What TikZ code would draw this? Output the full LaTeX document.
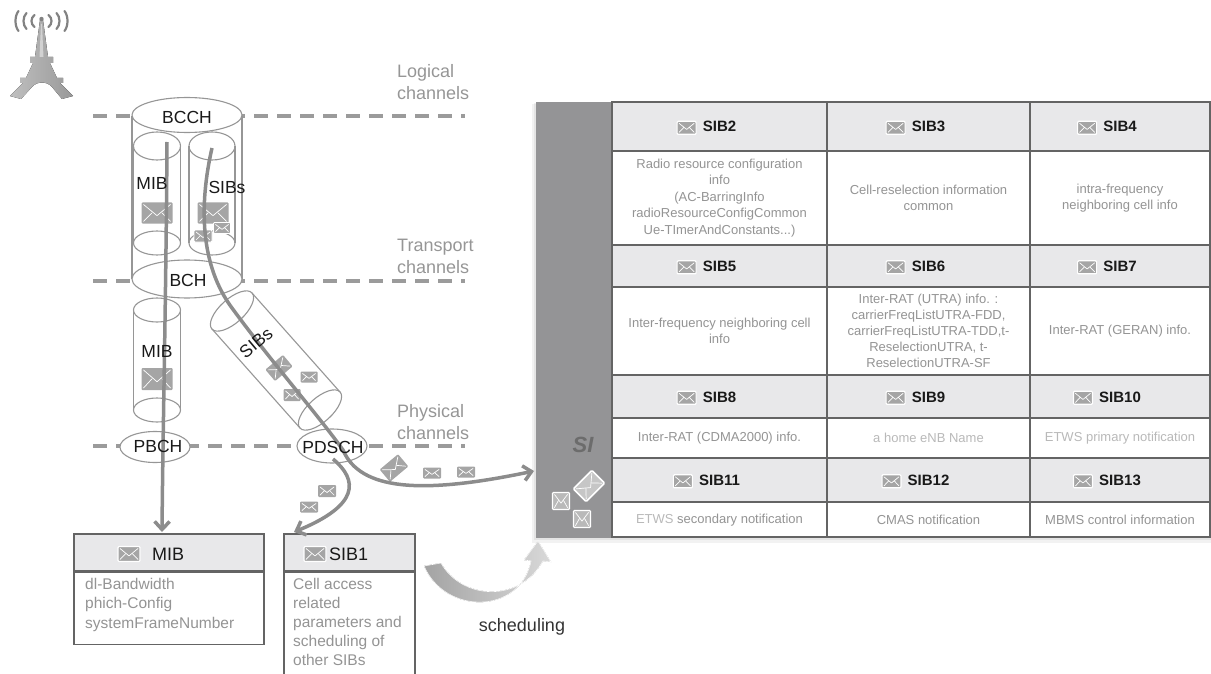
\documentclass[tikz,border=0pt]{standalone}
\usepackage{fontspec}
\setmainfont{Liberation Sans}
\usetikzlibrary{arrows.meta,shapes.geometric,calc}

\definecolor{flow}{RGB}{140,140,140}
\definecolor{outline}{RGB}{150,150,150}
\definecolor{dashc}{RGB}{155,155,155}
\definecolor{labelc}{RGB}{150,150,150}
\definecolor{ink}{RGB}{25,25,25}
\definecolor{panel}{RGB}{148,148,150}
\definecolor{grid}{RGB}{100,100,100}
\definecolor{headfill}{RGB}{232,232,234}
\definecolor{bodytxt}{RGB}{148,148,148}
\definecolor{bodylight}{RGB}{185,185,185}
\definecolor{envfill}{RGB}{165,165,165}
\definecolor{towerc}{RGB}{130,130,130}

% envelope icon: [extra fill options]{centre}{width}{height}{rotation}
\newcommand\envicon[5][]{%
  \begin{scope}[shift={#2}, rotate=#5]
    \fill[envfill, rounded corners=1pt, #1] ({-(#3)/2},{-(#4)/2}) rectangle ({(#3)/2},{(#4)/2});
    \draw[white, line width=0.7pt, line join=round, line cap=round]
      ({-(#3)/2+2},{-(#4)/2+2}) -- (0,{(#4)/8}) -- ({(#3)/2-2},{-(#4)/2+2})
      ({-(#3)/2+2},{(#4)/2-2}) -- ({-(#3)/6},0)
      ({(#3)/2-2},{(#4)/2-2}) -- ({(#3)/6},0);
  \end{scope}}

% one SIB cell: {col x}{header y}{body y}{number}{body text}{body options}
\newcommand\sibcell[6]{%
  \node[headtxt, anchor=base] (h#4) at (#1,#2+5.5) {SIB#4};
  \envicon[draw=white, line width=1.2pt]{($(h#4.west)+(-16,1)$)}{19}{13}{0}
  \node[celltxt, #6] (b#4) at (#1,#3) {#5};}

\begin{document}
\begin{tikzpicture}[x=1pt, y=-1pt,
  chan/.style={font=\fontsize{17.5}{20}\selectfont, text=ink, inner sep=0pt},
  layerlbl/.style={font=\fontsize{18}{22}\selectfont, text=labelc, align=left, anchor=north west, inner sep=0pt},
  layerline/.style={dashc, line width=4pt, dash pattern=on 14pt off 9pt},
  tube/.style={draw=outline, line width=1.1pt},
  chanell/.style={ellipse, draw=outline, line width=1.1pt, fill=white, inner sep=0pt},
  flowline/.style={flow, line width=3.5pt, -{Straight Barb[length=8pt,width=15pt]}},
  headtxt/.style={font=\fontsize{15}{18}\selectfont\bfseries, text=ink, inner sep=0pt},
  celltxt/.style={font=\fontsize{13}{16.5}\selectfont, text=bodytxt, align=center, inner sep=0pt},
  boxtitle/.style={font=\fontsize{18}{22}\selectfont, text=ink, inner sep=0pt, anchor=base west},
  boxtxt/.style={font=\fontsize{15.5}{19.5}\selectfont, text=bodytxt, align=left, inner sep=0pt, anchor=north west},
  boxpart/.style={draw=grid, line width=1.6pt, inner sep=0pt, anchor=north west},
  gridline/.style={draw=grid, line width=1.6pt},
]
\useasboundingbox (0,0) rectangle (1211,674);

% ---------- base station tower ----------
\fill[left color=gray!50, right color=gray!80]
  (40,20) -- (43,20) -- (48,57) -- (53,57) -- (53,63) -- (50,63) -- (57,78) -- (63,78)
  -- (63,83) -- (60,83) -- (73,96) -- (62,99) -- (52,87) .. controls (47,81) and (37,81) .. (32,87)
  -- (21,99) -- (10,96) -- (23,83) -- (20,83) -- (20,78) -- (26,78) -- (33,63) -- (30,63)
  -- (30,57) -- (35,57) -- cycle;
\fill[gray!35] (41,24) -- (42,24) -- (43.5,57) -- (39.5,57) -- cycle;
\fill[towerc] (41.5,19) circle (2.2);
\foreach \d/\h in {9/6,17/8,25/10}{
  \draw[towerc, line width=2.2pt, line cap=round]
    (41.5-\d+2,21-\h) .. controls (41.5-\d-2,21-\h/2) and (41.5-\d-2,21+\h/2) .. (41.5-\d+2,21+\h);
  \draw[towerc, line width=2.2pt, line cap=round]
    (41.5+\d-2,21-\h) .. controls (41.5+\d+2,21-\h/2) and (41.5+\d+2,21+\h/2) .. (41.5+\d-2,21+\h);
}

% ---------- channel layers ----------
\draw[layerline] (93,116) -- (465,116);
\draw[layerline] (93,281) -- (465,281);
\draw[layerline] (93,446) -- (465,446);
\node[layerlbl] (lbllog) at (397,64) {Logical\\channels};
\node[layerlbl] (lbltr) at (397,239) {Transport\\channels};
\node[layerlbl] (lblph) at (397,404) {Physical\\channels};

% BCCH / BCH cylinder with its two inner tubes
\draw[tube] (132,116) -- (132,279);
\draw[tube] (242,116) -- (242,279);
\draw[tube] (157,146) ellipse (23.5 and 14);
\draw[tube] (157,243) ellipse (23.5 and 12);
\draw[tube] (133.5,146) -- (133.5,243) (180.5,146) -- (180.5,243);
\draw[tube] (212,146) ellipse (23 and 14);
\draw[tube] (212,243) ellipse (23 and 12);
\draw[tube] (189,146) -- (189,243) (235,146) -- (235,243);
\node[chanell, minimum width=110pt, minimum height=35pt] (bcch) at (187,115) {};
\node[chanell, minimum width=110pt, minimum height=38pt] (bch) at (187,279) {};

% MIB tube down to PBCH
\draw[tube] (157,310) ellipse (23.5 and 12);
\draw[tube] (157,410) ellipse (23.5 and 12);
\draw[tube] (133.5,310) -- (133.5,410) (180.5,310) -- (180.5,410);

% slanted SIBs tube down to PDSCH
\draw[tube, rotate around={42:(232,311)}] (232,311) ellipse (27 and 12);
\draw[tube, rotate around={42:(320,410)}] (320,410) ellipse (27 and 12);
\draw[tube] (252,293) -- (340,392) (212,329) -- (300,428);

\node[chanell, minimum width=70pt, minimum height=31pt] (pbch) at (155,447) {};
\node[chanell, minimum width=70pt, minimum height=34pt] (pdsch) at (332,446) {};

% messages inside the tubes
\envicon{(157,213)}{31}{21}{0}
\envicon{(213,213)}{31}{21}{0}
\envicon[draw=white, line width=0.8pt]{(222,228)}{17}{11}{0}
\envicon[draw=white, line width=0.8pt]{(203,236)}{18}{12}{0}
\envicon{(157,379)}{31}{22}{0}
\envicon{(279,368)}{23}{15}{40}
\envicon{(309,377)}{17}{11}{0}
\envicon{(292,395)}{17}{12}{0}

% ---------- SI panel and SIB table ----------
\fill[black, opacity=0.05] (532,104) rectangle (1211,543);
\fill[black, opacity=0.06] (534,103) rectangle (1211,540);
\node[fill=panel, inner sep=0pt, minimum width=76pt, minimum height=436pt, anchor=north west] (sipanel) at (536,102) {};
\foreach \ya/\yb in {102/151, 245/287, 375/418, 458/502}
  \fill[headfill] (612,\ya) rectangle (1210,\yb);
\foreach \ya/\yb in {151/245, 287/375, 418/458, 502/537}
  \fill[white] (612,\ya) rectangle (1210,\yb);
\draw[gridline] (612,102) rectangle (1210,537);
\foreach \yy in {151,245,287,375,418,458,502}
  \draw[gridline] (612,\yy) -- (1210,\yy);
\foreach \xx in {827,1030}
  \draw[gridline] (\xx,102) -- (\xx,537);

\sibcell{719.5}{126.5}{198}{2}{Radio resource configuration\\info\\(AC-BarringInfo\\radioResourceConfigCommon\\Ue-TImerAndConstants...)}{}
\sibcell{928.5}{126.5}{198}{3}{Cell-reselection information\\common}{}
\sibcell{1120}{126.5}{198}{4}{intra-frequency\\neighboring cell info}{}
\sibcell{719.5}{266}{331}{5}{Inter-frequency neighboring cell\\info}{}
\sibcell{928.5}{266}{331}{6}{Inter-RAT (UTRA) info. :\\carrierFreqListUTRA-FDD,\\carrierFreqListUTRA-TDD,t-\\ReselectionUTRA, t-\\ReselectionUTRA-SF}{font=\fontsize{13}{16}\selectfont}
\sibcell{1120}{266}{331}{7}{Inter-RAT (GERAN) info.}{}
\sibcell{719.5}{396.5}{438}{8}{Inter-RAT (CDMA2000) info.}{}
\sibcell{928.5}{396.5}{438}{9}{a home eNB Name}{text=bodylight}
\sibcell{1120}{396.5}{438}{10}{ETWS primary notification}{text=bodylight}
\sibcell{719.5}{480}{520}{11}{{\color{bodylight}ETWS} secondary notification}{}
\sibcell{928.5}{480}{520}{12}{CMAS notification}{}
\sibcell{1120}{480}{520}{13}{MBMS control information}{}

\node[font=\fontsize{22}{26}\selectfont\bfseries\itshape, text=gray!85!black, inner sep=0pt] (silbl) at (583,445) {SI};
\envicon[fill=gray!55, draw=white, line width=1.4pt]{(561,501)}{17}{17}{0}
\envicon[fill=gray!55, draw=white, line width=1.4pt]{(582,519)}{17}{17}{0}
\envicon[fill=gray!45, draw=white, line width=1.6pt]{(589,486)}{26}{18}{45}

% ---------- MIB and SIB1 boxes ----------
\node[boxpart, fill=headfill, minimum width=190pt, minimum height=37pt] (mibhead) at (73,533) {};
\node[boxpart, fill=white, minimum width=190pt, minimum height=72pt] (mibbody) at (mibhead.south west) {};
\envicon[draw=white, line width=1.2pt]{(129,554)}{22}{15}{0}
\node[boxtitle] (mibtitle) at (152,560) {MIB};
\node[boxtxt] (mibtxt) at (85,578) {dl-Bandwidth\\phich-Config\\systemFrameNumber};

\node[boxpart, fill=headfill, minimum width=131pt, minimum height=37pt] (sib1head) at (283,533) {};
\node[boxpart, fill=white, minimum width=131pt, minimum height=103pt] (sib1body) at (sib1head.south west) {};
\envicon[draw=white, line width=1.2pt]{(315,554)}{22}{15}{0}
\node[boxtitle] (sib1title) at (329,560) {SIB1};
\node[boxtxt, font=\fontsize{15.5}{19}\selectfont] (sib1txt) at (293,578) {Cell access\\related\\parameters and\\scheduling of\\other SIBs};

% ---------- message flows ----------
\coordinate (mibsrc) at (167,142);
\coordinate (mibdst) at (162,532);
\coordinate (sibsrc) at (212,148);
\coordinate (sidst) at ($(sipanel.west |- 0,471)+(-2,0)$);
\coordinate (sib1src) at (333,459);
\coordinate (sib1dst) at (294,532);

\draw[flowline] (mibsrc) .. controls (166,300) and (163,420) .. (mibdst);
\draw[flowline] (sibsrc) .. controls (199,205) and (200,265) .. (232,308)
  .. controls (270,360) and (318,415) .. (343,450)
  .. controls (360,490) and (420,495) .. (sidst);
\draw[flowline] (sib1src) .. controls (358,480) and (360,505) .. (sib1dst);

\envicon{(394,468)}{24}{16}{40}
\envicon{(432,473)}{18}{11}{0}
\envicon{(466,472)}{18}{11}{0}
\envicon{(327,491)}{18}{12}{0}
\envicon{(309,507)}{18}{11}{0}

% channel names
\node[chan] (bcchtxt) at (187,117.5) {BCCH};
\node[chan] (bchtxt) at (188,280) {BCH};
\node[chan] (mibup) at (152,183.5) {MIB};
\node[chan] (sibup) at (227,187.5) {SIBs};
\node[chan] (miblow) at (157,351) {MIB};
\node[chan, rotate=40] (siblow) at (256,343) {SIBs};
\node[chan] (pbchtxt) at (158,446) {PBCH};
\node[chan] (pdschtxt) at (333,447) {PDSCH};

% ---------- scheduling ----------
\fill[left color=gray!72, right color=gray!30, draw=white, line width=0.6pt]
  (424,566) .. controls (445,615) and (520,615) .. (531,561)
  -- (524,560) -- (538,541) -- (551,562) -- (543,561)
  .. controls (520,603) and (462,600) .. (441,563) -- cycle;
\node[font=\fontsize{18}{22}\selectfont, text=gray!40!black, inner sep=0pt, anchor=base] (sched) at (522,631) {scheduling};

\end{tikzpicture}
\end{document}
